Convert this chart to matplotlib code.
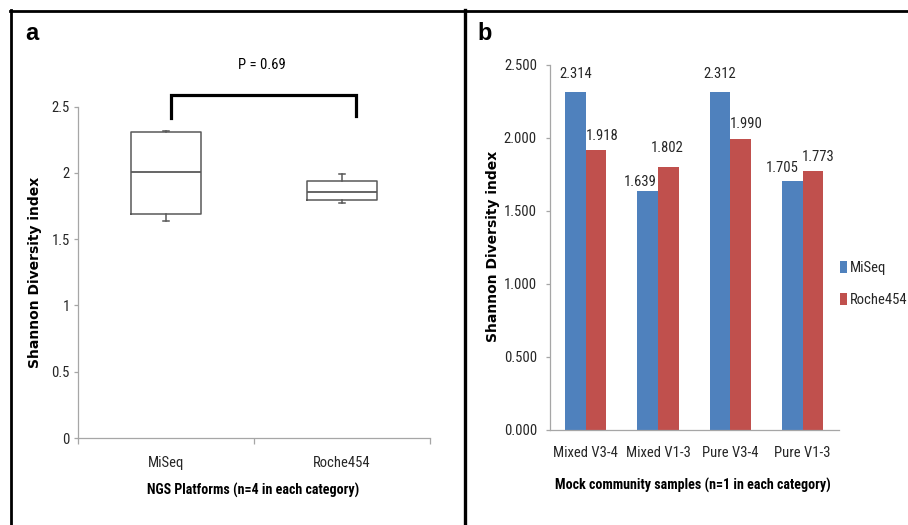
import matplotlib
matplotlib.use('Agg')
import matplotlib.pyplot as plt
from matplotlib import font_manager
from matplotlib.lines import Line2D
from matplotlib.patches import Patch
from matplotlib.ticker import FixedLocator, FuncFormatter

# ---------------- data ----------------
samples = ['Mixed V3-4', 'Mixed V1-3', 'Pure V3-4', 'Pure V1-3']
platforms = ['MiSeq', 'Roche454']
miseq = [2.314, 1.639, 2.312, 1.705]
roche = [1.918, 1.802, 1.990, 1.773]
p_label = 'P = 0.69'
yticks_a = [0, 0.5, 1, 1.5, 2, 2.5]
yticks_b = [0.0, 0.5, 1.0, 1.5, 2.0, 2.5]
ylabel = 'Shannon Diversity index'
xlabel_a = 'NGS Platforms (n=4 in each category)'
xlabel_b = 'Mock community samples (n=1 in each category)'

# ---------------- fonts ----------------
names = {f.name for f in font_manager.fontManager.ttflist}
NARROW, S = 'Lato', 0.93
for cand, sc in [('Roboto Condensed', 1.0), ('Open Sans Condensed', 1.0),
                 ('Liberation Sans Narrow', 1.0)]:
    if cand in names:
        NARROW, S = cand, sc
        break

W, H = 908, 525
fig = plt.figure(figsize=(W / 100, H / 100), dpi=100)
fig.patch.set_facecolor('white')

BLUE = '#4F81BD'
RED = '#C0504D'
AXC = '#A6A6A6'
TXT = '#262626'
BOXC = '#595959'

def fx(px):
    return px / W

def fy(py):
    return 1 - py / H

FS = 10.5 * S
FSB = 10.1 * S

# ---------------- panel a ----------------
axa = fig.add_axes([fx(78), fy(438), fx(430) - fx(78), fy(106.7) - fy(438)])
lineprops = dict(color=BOXC, lw=1.1)
axa.boxplot([miseq, roche], positions=[1, 2], widths=0.4, whis=(0, 100),
            showfliers=False, capwidths=0.035,
            boxprops=lineprops, whiskerprops=lineprops, capprops=lineprops,
            medianprops=dict(color=BOXC, lw=1.3))
axa.set_xlim(0.5, 2.5)
axa.set_ylim(0, 2.5)
for sp in ['top', 'right']:
    axa.spines[sp].set_visible(False)
for sp in ['left', 'bottom']:
    axa.spines[sp].set_color(AXC)
    axa.spines[sp].set_linewidth(0.9)
axa.yaxis.set_major_locator(FixedLocator(yticks_a))
axa.yaxis.set_major_formatter(FuncFormatter(lambda v, p: f'{v:g}'))
axa.set_xticks([1, 2])
axa.set_xticklabels(platforms)
axa.set_xticks([0.5, 1.5, 2.5], minor=True)
axa.tick_params(axis='x', which='major', length=0, pad=13, labelsize=FS,
                labelcolor=TXT)
axa.tick_params(axis='x', which='minor', length=4.3, width=0.9, color=AXC,
                direction='out')
axa.tick_params(axis='y', length=3, width=0.9, color=AXC, pad=3,
                labelsize=FS, labelcolor=TXT)
for lab in axa.get_xticklabels() + axa.get_yticklabels():
    lab.set_fontfamily(NARROW)

# significance bracket
axa.plot([1.028, 1.028, 2.08, 2.08], [2.415, 2.589, 2.589, 2.43],
         color='black', lw=2.3, clip_on=False, solid_joinstyle='miter')
fig.text(fx(262), fy(65), p_label, ha='center', va='center',
         fontsize=FS, family=NARROW, color='black')

fig.text(fx(35), fy(272.5), ylabel, rotation=90, ha='center', va='center',
         fontsize=10, fontweight='bold', family='DejaVu Sans', color='black')
fig.text(fx(253.5), fy(490), xlabel_a, ha='center', va='center',
         fontsize=FSB, fontweight='bold', family=NARROW, color='black')
fig.text(fx(32), fy(34), 'a', ha='center', va='center', fontsize=17,
         fontweight='bold', family='Liberation Sans', color='black')

# ---------------- panel b ----------------
axb = fig.add_axes([fx(549.5), fy(429.5), fx(838.8) - fx(549.5),
                    fy(65) - fy(429.5)])
x = list(range(len(samples)))
bw = 0.286
bars_m = axb.bar([i - bw / 2 for i in x], miseq, width=bw, color=BLUE,
                 label=platforms[0])
bars_r = axb.bar([i + bw / 2 for i in x], roche, width=bw, color=RED,
                 label=platforms[1])
axb.set_xlim(-0.5, len(samples) - 0.5)
axb.set_ylim(0, 2.5)
for sp in ['top', 'right']:
    axb.spines[sp].set_visible(False)
for sp in ['left', 'bottom']:
    axb.spines[sp].set_color(AXC)
    axb.spines[sp].set_linewidth(0.9)
axb.yaxis.set_major_locator(FixedLocator(yticks_b))
axb.yaxis.set_major_formatter(FuncFormatter(lambda v, p: f'{v:.3f}'))
axb.set_xticks(x)
axb.set_xticklabels(samples)
axb.tick_params(axis='x', length=0, pad=12, labelsize=FS, labelcolor=TXT)
axb.tick_params(axis='y', length=3, width=0.9, color=AXC, pad=6,
                labelsize=FS, labelcolor=TXT)
for lab in axb.get_xticklabels() + axb.get_yticklabels():
    lab.set_fontfamily(NARROW)

# value labels (offsets in points, per bar, as placed in the reference)
offs_m = [(0, 13), (-5, 6.5), (0, 13), (-7.2, 9)]
offs_r = [(4.8, 10), (-0.7, 13.7), (4.3, 10.8), (3.6, 10)]
for bars, vals, offs in [(bars_m, miseq, offs_m), (bars_r, roche, offs_r)]:
    for b, v, (dx, dy) in zip(bars, vals, offs):
        axb.annotate(f'{v:.3f}', (b.get_x() + b.get_width() / 2, v),
                     xytext=(dx, dy), textcoords='offset points',
                     ha='center', va='center', fontsize=FS,
                     family=NARROW, color=TXT, annotation_clip=False)

handles = [Patch(facecolor=BLUE, edgecolor='none'),
           Patch(facecolor=RED, edgecolor='none')]
leg = fig.legend(handles, platforms, loc='center left',
                 bbox_to_anchor=(fx(840), fy(284)), frameon=False,
                 handlelength=0.5, handleheight=0.9, handletextpad=0.15,
                 labelspacing=1.2, borderpad=0, borderaxespad=0,
                 prop={'family': NARROW, 'size': FS})
for t in leg.get_texts():
    t.set_color(TXT)

fig.text(fx(493), fy(246), ylabel, rotation=90, ha='center', va='center',
         fontsize=10, fontweight='bold', family='DejaVu Sans', color='black')
fig.text(fx(693), fy(485), xlabel_b, ha='center', va='center',
         fontsize=FSB, fontweight='bold', family=NARROW, color='black')
fig.text(fx(485), fy(34), 'b', ha='center', va='center', fontsize=17,
         fontweight='bold', family='Liberation Sans', color='black')

# ---------------- frame lines ----------------
fig.add_artist(Line2D([fx(10), 1], [fy(11), fy(11)], color='black', lw=2.0,
                      transform=fig.transFigure))
fig.add_artist(Line2D([fx(11), fx(11)], [0, fy(10)], color='black', lw=2.0,
                      transform=fig.transFigure))
fig.add_artist(Line2D([fx(465), fx(465)], [0, fy(10)], color='black', lw=2.4,
                      transform=fig.transFigure))

fig.savefig('out.png', dpi=100, facecolor='white')
